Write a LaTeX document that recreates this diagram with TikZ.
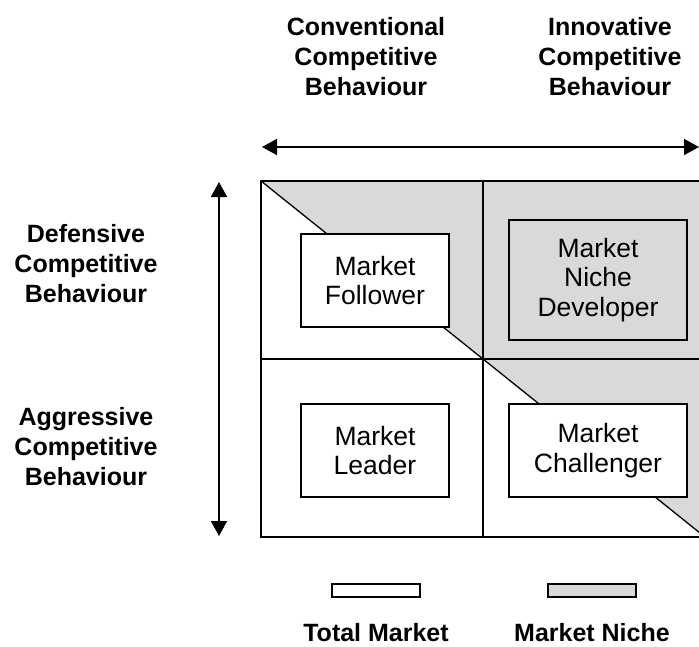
\documentclass[tikz,border=0pt]{standalone}
\usepackage{fontspec}
\setmainfont{Liberation Sans}
\usetikzlibrary{arrows.meta}
\definecolor{nichegray}{RGB}{217,217,217}
\tikzset{
  head/.style={font=\bfseries\fontsize{25}{30}\selectfont, align=center, inner sep=0pt},
  boxlabel/.style={draw=black, line width=1.6pt, fill=white, font=\fontsize{26.5}{29.5}\selectfont, align=center, inner sep=0pt},
  gridline/.style={line width=1.6pt, draw=black},
  axis/.style={line width=1.6pt, {Triangle[length=15pt,width=16pt]}-{Triangle[length=15pt,width=16pt]}},
  legbox/.style={draw=black, line width=1.6pt, minimum width=88pt, minimum height=13pt, inner sep=0pt},
}
\begin{document}
\begin{tikzpicture}[x=1pt,y=-1pt]
\useasboundingbox (0,0) rectangle (699,646);
\clip (0,0) rectangle (699,646);
% grid corners
\coordinate (tl) at (261,181);
\coordinate (tr) at (705,181);
\coordinate (bl) at (261,537);
\coordinate (br) at (705,537);
\coordinate (tm) at (483,181);
\coordinate (bm) at (483,537);
\coordinate (ml) at (261,359);
\coordinate (mr) at (705,359);
% shaded niche triangle
\fill[nichegray] (tl) -- (tr) -- (br) -- cycle;
\draw[line width=1.3pt] (tl) -- (br);
\draw[gridline] (tl) rectangle (br);
\draw[gridline] (tm) -- (bm);
\draw[gridline] (ml) -- (mr);
% boxes
\node[boxlabel, minimum width=148pt, minimum height=93pt] (follower) at (375,280.5) {Market\\Follower};
\node[boxlabel, fill=nichegray, minimum width=178pt, minimum height=120pt] (developer) at (598,280) {Market\\Niche\\Developer};
\node[boxlabel, minimum width=148pt, minimum height=93pt] (leader) at (375,450.5) {Market\\Leader};
\node[boxlabel, minimum width=178pt, minimum height=93pt] (challenger) at (598,450.5) {Market\\Challenger};
% axes
\coordinate (hl) at (262,147);
\coordinate (hr) at (699,147);
\coordinate (vt) at (219,182);
\coordinate (vb) at (219,536);
\draw[axis] (hl) -- (hr);
\draw[axis] (vt) -- (vb);
% headings
\node[head] (conv) at (366,57) {Conventional\\Competitive\\Behaviour};
\node[head] (innov) at (610,57) {Innovative\\Competitive\\Behaviour};
\node[head] (def) at (86,264) {Defensive\\Competitive\\Behaviour};
\node[head] (agg) at (86,447) {Aggressive\\Competitive\\Behaviour};
% legend
\node[legbox, fill=white] (legtotal) at (376,590.5) {};
\node[legbox, fill=nichegray] (legniche) at (592,590.5) {};
\node[head, anchor=base] (totaltxt) at (376,641) {Total Market};
\node[head, anchor=base] (nichetxt) at (592,641) {Market Niche};
\end{tikzpicture}
\end{document}
